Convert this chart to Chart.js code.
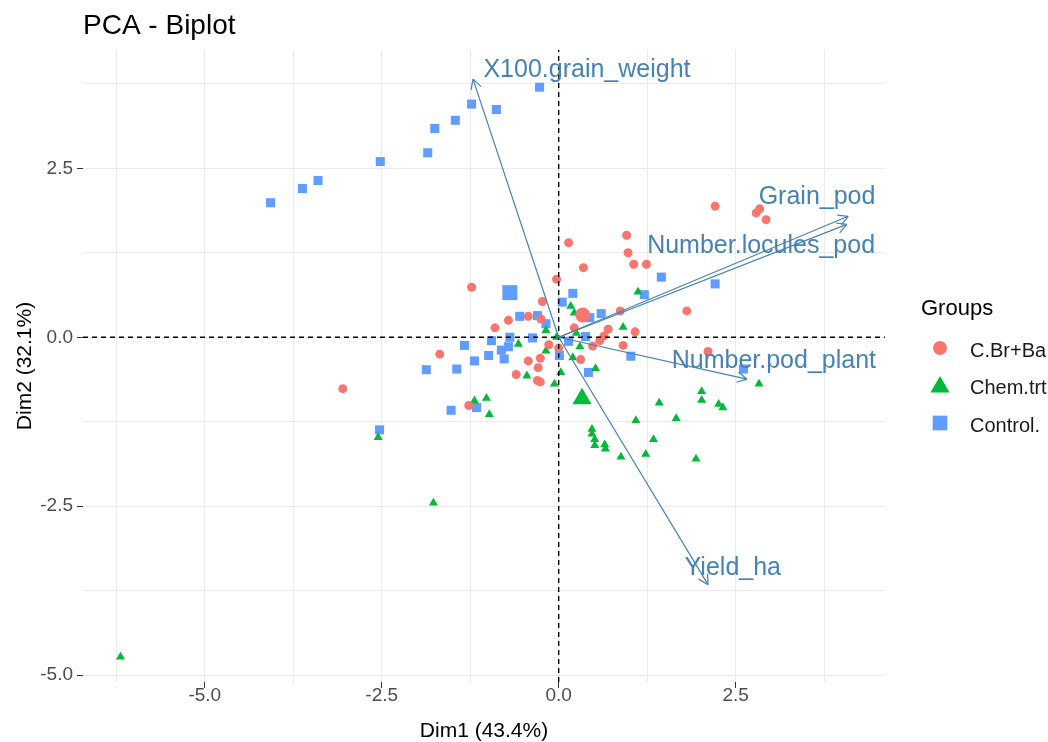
<!DOCTYPE html>
<html>
<head>
<meta charset="utf-8">
<title>PCA - Biplot</title>
<script src="https://cdn.jsdelivr.net/npm/chart.js@4.4.1/dist/chart.umd.min.js"></script>
<style>
    html, body { margin: 0; padding: 0; background: #ffffff; }
    canvas { display: block; }
</style>
</head>
<body>
<canvas id="biplot" width="1048" height="742"></canvas>
<script>
// groups
const groupNames = ['C.Br+Ba', 'Chem.trt', 'Control.'];
const groupColors = ['#F8766D', '#00BA38', '#619CFF'];
const groupShapes = ['circle', 'triangle', 'rect'];

// individuals (Dim1, Dim2)
const cbrDim1 = [-1.23, 2.21, 2.79, 2.84, 2.93, 0.96, 0.14, 0.98, 1.06, 1.24, 0.35, -0.03, -0.23, 0.87, 1.81, -0.90, -0.71, -0.43, -0.25, 0.22, 0.70, 1.08, 0.64, 0.58, 0.91, 0.48, -0.14, 0.00, 2.11, -0.43, -0.26, -0.29, 0.31, -0.60, -0.30, -0.26, -1.68, -3.05, -1.27];
const cbrDim2 = [0.74, 1.94, 1.84, 1.90, 1.74, 1.51, 1.40, 1.25, 1.08, 1.08, 1.03, 0.86, 0.53, 0.39, 0.39, 0.14, 0.25, 0.31, 0.27, 0.14, 0.12, 0.08, 0.02, -0.05, -0.12, -0.13, -0.11, -0.16, -0.21, -0.35, -0.31, -0.45, -0.33, -0.55, -0.64, -0.66, -0.25, -0.76, -1.01];

const chemDim1 = [-6.19, -1.77, -2.55, -1.19, -1.02, -0.98, -0.57, -0.18, -0.45, -0.06, 1.12, 0.17, 0.22, -0.18, -0.03, 0.25, 0.91, 0.30, 0.20, 0.03, 0.52, 2.83, 2.02, 2.02, 2.26, 2.32, 1.42, 1.66, 1.09, 0.47, 0.47, 0.51, 0.51, 0.65, 0.66, 1.34, 0.88, 1.23, 1.94];
const chemDim2 = [-4.73, -2.45, -1.48, -0.94, -0.90, -1.14, -0.10, -0.20, -0.57, -0.69, 0.67, 0.46, 0.36, 0.10, 0.00, 0.06, 0.15, -0.14, -0.30, -0.52, -0.46, -0.69, -0.80, -0.93, -0.99, -1.04, -0.97, -1.20, -1.23, -1.36, -1.43, -1.51, -1.60, -1.59, -1.65, -1.51, -1.77, -1.73, -1.80];

const ctrlDim1 = [-4.07, -3.62, -3.40, -2.52, -1.85, -1.75, -1.46, -1.23, -0.88, -0.27, 0.20, 1.45, 2.21, 1.21, 0.05, -0.55, -0.30, -0.18, 0.60, 0.44, -0.95, -0.69, -0.37, 0.38, 0.14, -1.33, -0.81, -0.71, -0.99, -0.77, -1.19, -1.87, -1.44, 0.01, 1.02, 0.42, 2.61, -1.16, -1.52, -2.53];
const ctrlDim2 = [1.99, 2.20, 2.32, 2.60, 2.73, 3.09, 3.21, 3.45, 3.37, 3.70, 0.65, 0.89, 0.79, 0.63, 0.52, 0.31, 0.32, 0.20, 0.35, 0.29, -0.05, 0.00, -0.01, 0.01, -0.06, -0.12, -0.19, -0.14, -0.27, -0.32, -0.35, -0.48, -0.47, -0.27, -0.28, -0.52, -0.47, -1.04, -1.08, -1.37];

// group means (bigger markers), same order as groupNames
const centroidDim1 = [0.34, 0.33, -0.69];
const centroidDim2 = [0.33, -0.91, 0.66];

// variables (arrows) and where their labels sit
const varNames = ['X100.grain_weight', 'Grain_pod', 'Number.locules_pod', 'Number.pod_plant', 'Yield_ha'];
const varDim1 = [-1.21, 4.09, 4.07, 2.66, 2.11];
const varDim2 = [3.82, 1.79, 1.67, -0.62, -3.66];
const labelDim1 = [0.40, 3.65, 2.86, 3.04, 2.46];
const labelDim2 = [3.95, 2.07, 1.35, -0.36, -3.42];

// axes
const xMajorTicks = [-5, -2.5, 0, 2.5];
const xMinorTicks = [-6.25, -3.75, -1.25, 1.25, 3.75];
const yMajorTicks = [-5, -2.5, 0, 2.5];
const yMinorTicks = [-3.75, -1.25, 1.25, 3.75];
const xLimits = [-6.72, 4.61];
const yLimits = [-5.10, 4.25];

const fontFamily = '"Liberation Sans", Arial, Helvetica, sans-serif';
const arrowColor = '#4682B4';

function pairUp(xs, ys) {
    return xs.map((v, i) => ({ x: v, y: ys[i] }));
}

function allTicks(major, minor) {
    return major.concat(minor).sort((a, b) => a - b).map(v => ({ value: v }));
}

const groupDim1 = [cbrDim1, chemDim1, ctrlDim1];
const groupDim2 = [cbrDim2, chemDim2, ctrlDim2];
const pointRadius = [4.5, 5.2, 6.4];
const centroidRadius = [7.5, 11, 10.6];

const datasets = [];

// variable arrows (shafts), heads are added by the plugin
varNames.forEach((name, i) => {
    datasets.push({
        label: name,
        data: [{ x: 0, y: 0 }, { x: varDim1[i], y: varDim2[i] }],
        showLine: true,
        borderColor: arrowColor,
        borderWidth: 1.2,
        pointRadius: 0,
        order: 0
    });
});

// dashed reference lines through the origin
datasets.push({
    label: 'vline',
    data: [{ x: 0, y: yLimits[0] }, { x: 0, y: yLimits[1] }],
    showLine: true, borderColor: '#000000', borderWidth: 1.4, borderDash: [5, 4], pointRadius: 0, order: 1
});
datasets.push({
    label: 'hline',
    data: [{ x: xLimits[0], y: 0 }, { x: xLimits[1], y: 0 }],
    showLine: true, borderColor: '#000000', borderWidth: 1.4, borderDash: [5, 4], pointRadius: 0, order: 1
});

groupNames.forEach((name, g) => {
    datasets.push({
        label: name + ' mean',
        data: [{ x: centroidDim1[g], y: centroidDim2[g] }],
        pointStyle: groupShapes[g],
        pointRadius: centroidRadius[g],
        backgroundColor: groupColors[g],
        borderWidth: 0,
        order: 2
    });
    datasets.push({
        label: name,
        data: pairUp(groupDim1[g], groupDim2[g]),
        pointStyle: groupShapes[g],
        pointRadius: pointRadius[g],
        backgroundColor: groupColors[g],
        borderWidth: 0,
        order: 3 + g
    });
});

function drawShape(ctx, shape, x, y, r) {
    ctx.beginPath();
    if (shape === 'circle') {
        ctx.arc(x, y, r, 0, Math.PI * 2);
    } else if (shape === 'triangle') {
        ctx.moveTo(x, y - r);
        ctx.lineTo(x + Math.sin(Math.PI * 2 / 3) * r, y + r / 2);
        ctx.lineTo(x - Math.sin(Math.PI * 2 / 3) * r, y + r / 2);
        ctx.closePath();
    } else {
        const s = Math.SQRT1_2 * r;
        ctx.rect(x - s, y - s, 2 * s, 2 * s);
    }
    ctx.fill();
}

const biplotExtras = {
    id: 'biplotExtras',
    afterDatasetsDraw(chart) {
        const ctx = chart.ctx;
        const xs = chart.scales.x, ys = chart.scales.y;
        const ox = xs.getPixelForValue(0), oy = ys.getPixelForValue(0);
        ctx.save();
        // open arrow heads
        ctx.strokeStyle = arrowColor;
        ctx.lineWidth = 1.2;
        varNames.forEach((name, i) => {
            const tx = xs.getPixelForValue(varDim1[i]);
            const ty = ys.getPixelForValue(varDim2[i]);
            const ang = Math.atan2(ty - oy, tx - ox);
            ctx.beginPath();
            [-1, 1].forEach(s => {
                ctx.moveTo(tx, ty);
                ctx.lineTo(tx - 11 * Math.cos(ang + s * 0.5), ty - 11 * Math.sin(ang + s * 0.5));
            });
            ctx.stroke();
        });
        // variable labels
        ctx.fillStyle = arrowColor;
        ctx.font = '25px ' + fontFamily;
        ctx.textAlign = 'center';
        ctx.textBaseline = 'middle';
        varNames.forEach((name, i) => {
            ctx.fillText(name, xs.getPixelForValue(labelDim1[i]), ys.getPixelForValue(labelDim2[i]));
        });
        ctx.restore();
    },
    afterDraw(chart) {
        const ctx = chart.ctx;
        ctx.save();
        // title
        ctx.fillStyle = '#000000';
        ctx.textAlign = 'left';
        ctx.textBaseline = 'alphabetic';
        ctx.font = '28px ' + fontFamily;
        ctx.fillText('PCA - Biplot', 83, 34);
        // legend
        ctx.font = '22px ' + fontFamily;
        ctx.fillText('Groups', 921, 315);
        const keyY = [348, 385, 423];
        const legendRadius = [7, 11, 10.4];
        ctx.font = '20px ' + fontFamily;
        groupNames.forEach((name, g) => {
            ctx.fillStyle = groupColors[g];
            drawShape(ctx, groupShapes[g], 940, keyY[g] + (g === 1 ? 2 : 0), legendRadius[g]);
            ctx.fillStyle = '#1A1A1A';
            ctx.textBaseline = 'middle';
            ctx.fillText(name, 970, keyY[g] + 3);
        });
        ctx.restore();
    }
};

new Chart(document.getElementById('biplot'), {
    type: 'scatter',
    data: { datasets: datasets },
    plugins: [biplotExtras],
    options: {
        responsive: false,
        animation: false,
        events: [],
        layout: { padding: { left: 0, right: 163, top: 50, bottom: 0 } },
        plugins: {
            legend: { display: false },
            tooltip: { enabled: false },
            title: { display: false }
        },
        scales: {
            x: {
                type: 'linear',
                min: xLimits[0],
                max: xLimits[1],
                afterBuildTicks: axis => { axis.ticks = allTicks(xMajorTicks, xMinorTicks); },
                afterFit: axis => { axis.height = 60; },
                border: { display: false },
                grid: {
                    color: '#EBEBEB',
                    lineWidth: 1,
                    tickLength: 6,
                    tickWidth: 1,
                    tickColor: c => xMajorTicks.includes(c.tick.value) ? '#333333' : 'rgba(0,0,0,0)'
                },
                ticks: {
                    autoSkip: false,
                    maxRotation: 0,
                    padding: -4,
                    color: '#4D4D4D',
                    font: { family: fontFamily, size: 19 },
                    callback: v => xMajorTicks.includes(v) ? v.toFixed(1) : ''
                },
                title: {
                    display: true,
                    text: 'Dim1 (43.4%)',
                    color: '#000000',
                    font: { family: fontFamily, size: 21, lineHeight: 1 },
                    padding: { top: 0, bottom: 0 }
                }
            },
            y: {
                type: 'linear',
                min: yLimits[0],
                max: yLimits[1],
                afterBuildTicks: axis => { axis.ticks = allTicks(yMajorTicks, yMinorTicks); },
                afterFit: axis => { axis.width = 83; },
                border: { display: false },
                grid: {
                    color: '#EBEBEB',
                    lineWidth: 1,
                    tickLength: 6,
                    tickWidth: 1,
                    tickColor: c => yMajorTicks.includes(c.tick.value) ? '#333333' : 'rgba(0,0,0,0)'
                },
                ticks: {
                    autoSkip: false,
                    padding: 4,
                    color: '#4D4D4D',
                    font: { family: fontFamily, size: 19 },
                    callback: v => yMajorTicks.includes(v) ? v.toFixed(1) : ''
                },
                title: {
                    display: true,
                    text: 'Dim2 (32.1%)',
                    color: '#000000',
                    font: { family: fontFamily, size: 21 },
                    padding: { top: 13, bottom: 0 }
                }
            }
        }
    }
});
</script>
</body>
</html>
